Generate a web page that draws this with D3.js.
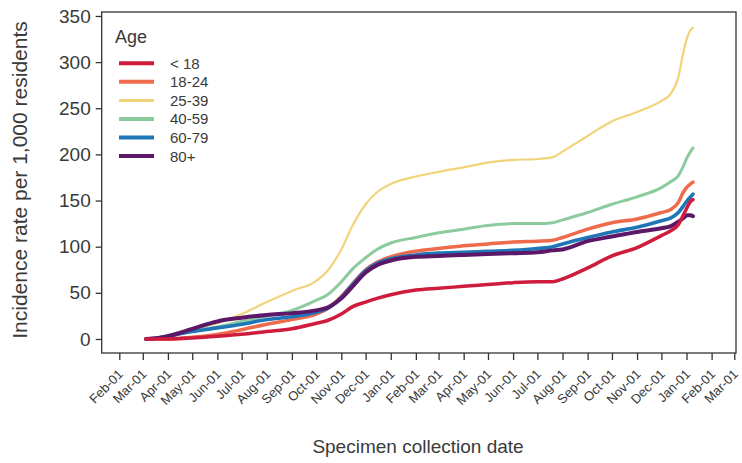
<!DOCTYPE html>
<html><head><meta charset="utf-8">
<script src="https://cdn.jsdelivr.net/npm/d3@7"></script>
<style>
body{margin:0;background:#fff;}
text{font-family:"Liberation Sans",Arial,sans-serif;fill:#3a3a3a;}
</style></head>
<body><svg id="c" width="742" height="463"></svg>
<script>
const dates = ["2020-03-05","2020-03-20","2020-04-01","2020-05-01","2020-06-01","2020-07-01","2020-08-01","2020-09-01","2020-10-01","2020-10-15","2020-11-01","2020-11-15","2020-12-01","2020-12-15","2021-01-01","2021-02-01","2021-03-01","2021-04-01","2021-05-01","2021-06-01","2021-07-01","2021-07-20","2021-08-01","2021-09-01","2021-10-01","2021-11-01","2021-12-01","2021-12-12","2021-12-22","2021-12-28","2022-01-02","2022-01-06","2022-01-09"];
const ageGroups = ["< 18","18-24","25-39","40-59","60-79","80+"];
const under18 = [0,0,0,1,3,5,8,11,17,20,27,35,40,44,48,53,55,57,59,61,62,62,65,77,90,99,112,117,124,134,143,149,151];
const age18_24 = [0,0,0,2,5,10,16,21,27,33,46,60,75,83,89,95,98,101,103,105,106,107,110,119,126,130,137,140,148,159,165,168,170];
const age25_39 = [0,1,3,11,17,27,40,52,63,74,97,123,146,159,168,176,181,186,191,194,195,197,203,220,236,246,258,265,284,310,327,335,337];
const age40_59 = [0,1,4,9,13,19,25,31,42,48,62,76,88,97,104,110,115,119,123,125,125,126,129,137,146,154,164,170,177,187,197,203,207];
const age60_79 = [0,1,3,8,12,16,21,24,29,33,45,59,74,82,87,91,93,94,95,96,98,100,103,110,116,121,128,131,137,144,150,154,157];
const age80plus = [0,1,3,11,19,23,26,28,31,34,44,57,72,80,85,89,90,91,92,93,94,96,97,106,111,116,120,122,127,131,134,134,133];
const seriesValues = [under18, age18_24, age25_39, age40_59, age60_79, age80plus];
const colors = ["#CF1C3C","#EE6B4B","#F1D47A","#8CCB9D","#1F76B7","#5C1768"];
const widths = [3.5,3.5,2.2,3,3.6,4];
const yTicks = [0,50,100,150,200,250,300,350];

const parse = d3.timeParse("%Y-%m-%d");
const svg = d3.select("#c");
const L=101.7, R=736, T=12, B=353;
const x = d3.scaleTime().domain([parse("2020-02-01"), parse("2022-03-01")]).range([119.3, 734.3]);
const y = d3.scaleLinear().domain([-15.2, 354.3]).range([B, T]);

// frame
svg.append("rect").attr("x",L).attr("y",T).attr("width",R-L).attr("height",B-T)
  .attr("fill","none").attr("stroke","#333").attr("stroke-width",1.3);

// y axis
const ya = svg.append("g").attr("transform",`translate(${L},0)`)
  .call(d3.axisLeft(y).tickValues(yTicks).tickSize(6).tickPadding(5));
ya.select(".domain").remove();
ya.selectAll(".tick line").attr("stroke","#333").attr("stroke-width",1.3);
ya.selectAll(".tick text").attr("font-size",19).attr("fill","#3a3a3a").attr("font-family","Liberation Sans, Arial, sans-serif");

// x axis
const xTicks = d3.timeMonth.range(parse("2020-02-01"), d3.timeDay.offset(parse("2022-03-01"),1));
const xa = svg.append("g").attr("transform",`translate(0,${B})`)
  .call(d3.axisBottom(x).tickValues(xTicks).tickFormat(d3.timeFormat("%b-%d")).tickSize(7));
xa.select(".domain").remove();
xa.selectAll(".tick line").attr("stroke","#333").attr("stroke-width",1.3);
xa.selectAll(".tick text").attr("font-size",13).attr("fill","#3a3a3a")
  .attr("font-family","Liberation Sans, Arial, sans-serif")
  .attr("text-anchor","end").attr("y",0).attr("dy",0)
  .attr("transform","translate(4,22) rotate(-45)");

// lines
const pts = dates.map(parse);
const line = d3.line().x((d,i)=>x(pts[i])).y(d=>y(d)).curve(d3.curveMonotoneX);
const order = [2,3,1,4,5,0];
order.forEach(k=>{
  svg.append("path").datum(seriesValues[k]).attr("d",line)
    .attr("fill","none").attr("stroke",colors[k]).attr("stroke-width",widths[k])
    .attr("stroke-linejoin","round").attr("stroke-linecap","round");
});

// legend
const lg = svg.append("g");
lg.append("text").attr("x",115).attr("y",43).attr("font-size",18).text("Age");
ageGroups.forEach((g,i)=>{
  const yy = 63.3 + i*18.55;
  lg.append("line").attr("x1",119).attr("x2",154).attr("y1",yy).attr("y2",yy)
    .attr("stroke",colors[i]).attr("stroke-width",i===2?3:4);
  lg.append("text").attr("x",170).attr("y",yy+5.5).attr("font-size",15).text(g);
});

// axis titles
svg.append("text").attr("transform","translate(27,180) rotate(-90)").attr("text-anchor","middle")
  .attr("font-size",21).text("Incidence rate per 1,000 residents");
svg.append("text").attr("x",418).attr("y",453).attr("text-anchor","middle")
  .attr("font-size",19).text("Specimen collection date");
</script></body></html>
